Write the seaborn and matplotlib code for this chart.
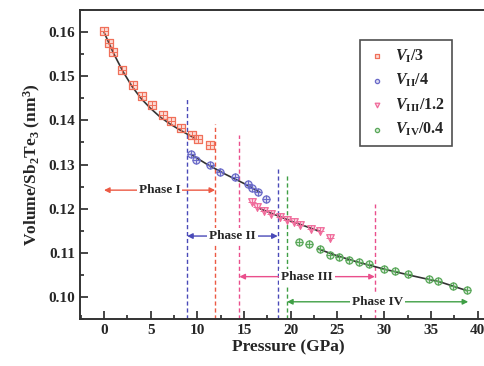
import matplotlib
matplotlib.use("Agg")
import matplotlib.pyplot as plt
import matplotlib.colors as mcolors
from matplotlib.ticker import MultipleLocator
import seaborn as sns
import pandas as pd

# measured points (pressure GPa, scaled volume nm^3)
p1 = [0, 0.54, 0.93, 1.9, 3.07, 4.04, 5.1, 6.3, 7.2, 8.2, 9.4, 10.1, 11.4]
v1 = [0.1602, 0.1575, 0.1554, 0.1515, 0.1481, 0.1456, 0.1434, 0.1413, 0.1398, 0.1383, 0.1367, 0.1357, 0.1345]

p2 = [9.3, 9.9, 11.3, 12.4, 14.0, 15.4, 15.9, 16.5, 17.3]
v2 = [0.1323, 0.1310, 0.1299, 0.1284, 0.1272, 0.1256, 0.1248, 0.1238, 0.1222]

p3 = [15.9, 16.4, 17.1, 17.9, 18.8, 19.6, 20.3, 21.0, 22.2, 23.1, 24.2]
v3 = [0.1216, 0.1204, 0.1195, 0.1189, 0.1182, 0.1174, 0.1170, 0.1163, 0.1155, 0.1149, 0.1133]

p4 = [20.9, 22.0, 23.1, 24.2, 25.2, 26.2, 27.3, 28.4, 30.0, 31.2, 32.6, 34.8, 35.8, 37.4, 38.9]
v4 = [0.1124, 0.1121, 0.1108, 0.1096, 0.1090, 0.1084, 0.1079, 0.1074, 0.1063, 0.1059, 0.1052, 0.1041, 0.1036, 0.1025, 0.1015]

# fitted EOS curves
fit1_p = [0, 1, 2, 3, 4, 5, 6, 7, 8, 9, 9.7]
fit1_v = [0.1600, 0.1553, 0.1512, 0.1477, 0.1449, 0.1427, 0.1408, 0.1393, 0.1380, 0.1368, 0.1360]
fit2_p = [9.3, 11, 13, 15, 16.7]
fit2_v = [0.1323, 0.1301, 0.1278, 0.1257, 0.1237]
fit3_p = [16.7, 18, 20, 22, 23.2]
fit3_v = [0.1200, 0.1189, 0.1172, 0.1157, 0.1148]
fit4_p = [22.9, 25, 27, 30, 33, 36, 38.9]
fit4_v = [0.1109, 0.1093, 0.1080, 0.1063, 0.1048, 0.1034, 0.1014]

labels = [r"$V_{\rm I}$/3", r"$V_{\rm II}$/4", r"$V_{\rm III}$/1.2", r"$V_{\rm IV}$/0.4"]

# phase boundaries
vl_p = [8.9, 11.9, 14.5, 18.6, 19.6, 29.0]
vl_top = [0.1453, 0.1391, 0.1367, 0.1295, 0.1276, 0.1210]

phase_names = ["Phase I", "Phase II", "Phase III", "Phase IV"]
phase_start = [0, 8.9, 14.5, 19.6]
phase_end = [11.9, 18.6, 29.0, 39.0]
phase_y = [0.1242, 0.1138, 0.1046, 0.0989]

c_red = "#ec5a44"
c_blue = "#4a4ab8"
c_pink = "#ea4f8c"
c_green = "#3f9f45"
pt_colors = ["#f0705a", "#6a6ac8", "#f06a9a", "#5aa85a"]
vl_colors = [c_blue, c_red, c_pink, c_blue, c_green, c_pink]
arrow_colors = [c_red, c_blue, c_pink, c_green]
markers = ["s", "o", "v", "o"]

sns.set_theme(style="ticks")
plt.rcParams["font.family"] = ["Liberation Serif", "DejaVu Serif"]
plt.rcParams["font.weight"] = "bold"
plt.rcParams["mathtext.fontset"] = "custom"
plt.rcParams["mathtext.rm"] = "Liberation Serif:bold"
plt.rcParams["mathtext.it"] = "Liberation Serif:italic:bold"
plt.rcParams["mathtext.bf"] = "Liberation Serif:bold"

fig = plt.figure(figsize=(4.84, 3.66), dpi=100)
ax = fig.add_axes([0.1653, 0.1284, 0.86, 0.844])

for x, y in [(fit1_p, fit1_v), (fit2_p, fit2_v), (fit3_p, fit3_v), (fit4_p, fit4_v)]:
    fit_df = pd.DataFrame({"P": x, "V": y})
    sns.lineplot(data=fit_df, x="P", y="V", ax=ax, color="#333333", lw=1.2, zorder=3)

for xp, top, c in zip(vl_p, vl_top, vl_colors):
    ax.vlines(xp, 0.095, top, colors=c, linestyles=(0, (3, 2)), lw=1.0, zorder=1)

for i, (x, y) in enumerate([(p1, v1), (p2, v2), (p3, v3), (p4, v4)]):
    df = pd.DataFrame({"P": x, "V": y})
    face = mcolors.to_rgba(pt_colors[i], 0.25)
    sz = 26 if markers[i] != "v" else 30
    sns.scatterplot(data=df, x="P", y="V", ax=ax, marker=markers[i], s=sz,
                    facecolor=face, edgecolor=pt_colors[i], linewidth=0.9,
                    label=labels[i], zorder=4)
    ax.scatter(x, y, marker="+", s=26, color=pt_colors[i], linewidths=0.7, zorder=5)

for name, x0, x1, y, c in zip(phase_names, phase_start, phase_end, phase_y, arrow_colors):
    ax.annotate("", xy=(x0, y), xytext=(x1, y),
                arrowprops=dict(arrowstyle="<|-|>", color=c, lw=1.0, mutation_scale=8,
                                shrinkA=0, shrinkB=0), zorder=6)
    ax.text((x0 + x1) / 2, y, name, ha="center", va="center", fontsize=9.5,
            fontweight="bold", zorder=7,
            bbox=dict(facecolor="white", edgecolor="none", pad=1.5))

ax.set_xlim(-2.57, 42)
ax.set_ylim(0.095, 0.165)
ax.xaxis.set_major_locator(MultipleLocator(5))
ax.xaxis.set_minor_locator(MultipleLocator(2.5))
ax.yaxis.set_major_locator(MultipleLocator(0.01))
ax.yaxis.set_minor_locator(MultipleLocator(0.005))
ax.yaxis.set_major_formatter(plt.FormatStrFormatter("%.2f"))
ax.tick_params(which="both", direction="in", labelsize=11, width=1.2)
ax.tick_params(which="major", length=6)
ax.tick_params(which="minor", length=3)
for lab in ax.get_xticklabels() + ax.get_yticklabels():
    lab.set_fontweight("bold")
for s in ax.spines.values():
    s.set_linewidth(1.4)
    s.set_color("#333333")

ax.set_xlabel("Pressure (GPa)", fontsize=12.5, fontweight="bold", labelpad=2)
ax.set_ylabel(r"Volume/Sb$_2$Te$_3$ (nm$^3$)", fontsize=12.5, fontweight="bold", labelpad=4)

leg = ax.legend(loc="upper right", bbox_to_anchor=(0.893, 0.903), borderaxespad=0,
                fancybox=False, frameon=True, fontsize=11.5, markerscale=0.6,
                handlelength=1.2, handletextpad=0.5, labelspacing=0.45, borderpad=0.45)
leg.get_frame().set_edgecolor("#222222")
leg.get_frame().set_linewidth(1.2)

fig.savefig("out.png", dpi=100)
